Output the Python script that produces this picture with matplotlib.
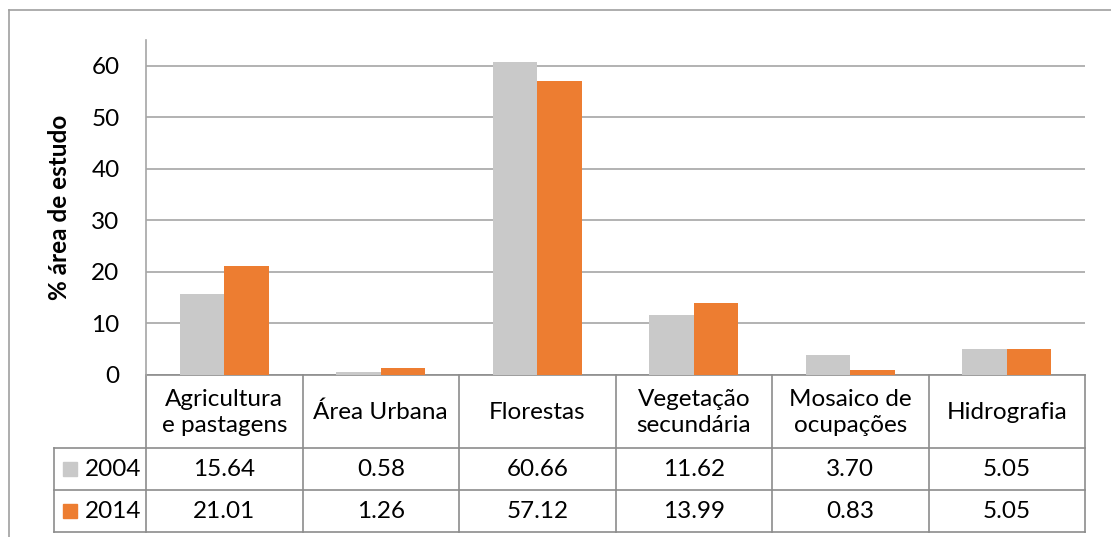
import matplotlib.pyplot as plt
import matplotlib.transforms as mtransforms
from matplotlib.patches import Rectangle
import numpy as np

plt.rcParams['font.family'] = ['Lato', 'DejaVu Sans']

categorias = ['Agricultura\ne pastagens', 'Área Urbana', 'Florestas',
              'Vegetação\nsecundária', 'Mosaico de\nocupações', 'Hidrografia']
anos = ['2004', '2014']
v2004 = [15.64, 0.58, 60.66, 11.62, 3.70, 5.05]
v2014 = [21.01, 1.26, 57.12, 13.99, 0.83, 5.05]
cores = ['#C9C9C9', '#ED7D31']

FS = 17.5
W, H = 1111, 537
fig = plt.figure(figsize=(W / 100, H / 100), dpi=100)

# eixo principal (coordenadas em pixels convertidas)
x0, x1 = 146, 1085
y0, ytop = 374.5, 40
ax = fig.add_axes([x0 / W, 1 - y0 / H, (x1 - x0) / W, (y0 - ytop) / H])

n = len(categorias)
x = np.arange(n)
larg = 0.284
for vals, cor, off in [(v2004, cores[0], -larg / 2), (v2014, cores[1], larg / 2)]:
    ax.bar(x + off, vals, width=larg, color=cor, zorder=3)

ax.set_xlim(-0.5, n - 0.5)
ax.set_ylim(0, 65)
ax.set_yticks(range(0, 61, 10))
ax.yaxis.grid(True, color='#A6A6A6', linewidth=1.2, zorder=0)
ax.set_xticks([])
ax.tick_params(axis='y', length=0, pad=19, labelsize=FS)
for s in ['top', 'right', 'bottom']:
    ax.spines[s].set_visible(False)
ax.spines['left'].set_color('#A6A6A6')
ax.spines['left'].set_linewidth(1.2)
ax.set_ylabel('% área de estudo', fontsize=FS, fontweight='bold', labelpad=15)

# tabela de dados abaixo do gráfico
trans = mtransforms.blended_transform_factory(ax.transData, ax.transAxes)
hpx = y0 - ytop
def ya(py):
    return -(py - y0) / hpx

linhas = [y0, 448, 490, 532]
esq = -0.5 - 92 / 156.5
cor_borda = '#8C8C8C'
kw = dict(transform=trans, clip_on=False, color=cor_borda, linewidth=1.2)

# linhas horizontais
ax.plot([-0.5, n - 0.5], [ya(linhas[0])] * 2, **kw)
for py in linhas[1:]:
    ax.plot([esq, n - 0.5], [ya(py)] * 2, **kw)
# linhas verticais
for i in range(n + 1):
    ax.plot([i - 0.5] * 2, [ya(linhas[0]), ya(linhas[3])], **kw)
ax.plot([esq] * 2, [ya(linhas[1]), ya(linhas[3])], **kw)

# cabeçalho
for i, c in enumerate(categorias):
    ax.text(i, ya((linhas[0] + linhas[1]) / 2 + 1), c, transform=trans,
            ha='center', va='center', fontsize=FS, linespacing=1.3)

# valores
for r, (ano, vals, cor) in enumerate(zip(anos, [v2004, v2014], cores)):
    yc = ya((linhas[r + 1] + linhas[r + 2]) / 2)
    for i, v in enumerate(vals):
        ax.text(i, yc, f'{v:.2f}', transform=trans, ha='center', va='center',
                fontsize=FS)
    sx = esq + 9 / 156.5
    ax.add_patch(Rectangle((sx, yc - 7 / hpx), 14 / 156.5, 14 / hpx,
                           transform=trans, clip_on=False, color=cor))
    ax.text(esq + 31 / 156.5, yc, ano, transform=trans, ha='left',
            va='center', fontsize=FS)

# moldura externa
fig.add_artist(plt.Line2D([9 / W, 1], [1 - 10 / H] * 2, color='#A0A0A0',
                          linewidth=1.2, transform=fig.transFigure))
fig.add_artist(plt.Line2D([9 / W] * 2, [0, 1 - 10 / H], color='#A0A0A0',
                          linewidth=1.2, transform=fig.transFigure))

fig.savefig('out.png', dpi=100)
